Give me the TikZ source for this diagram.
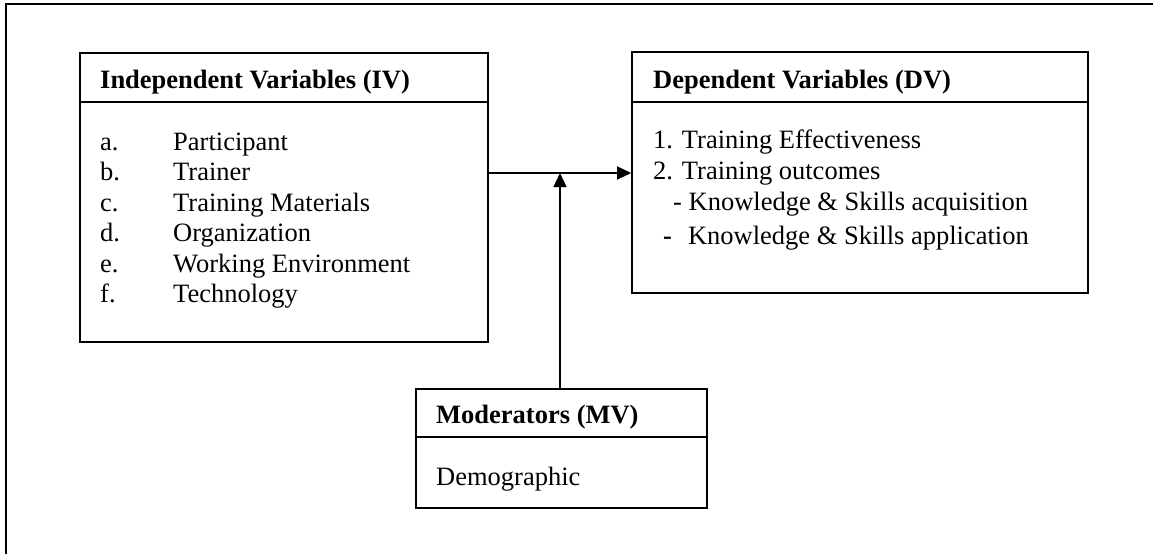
\documentclass[tikz,border=0pt]{standalone}
\usepackage{fontspec}
\setmainfont{Liberation Serif}
\usetikzlibrary{arrows.meta}
\begin{document}
\begin{tikzpicture}[x=1pt,y=-1pt,
  box/.style={draw, line width=1.6pt, rectangle, inner sep=0pt},
  sep/.style={line width=1.6pt},
  frameline/.style={line width=2pt},
  conn/.style={line width=1.3pt, -{Triangle[length=14pt,width=13pt]}},
  txt/.style={anchor=base west, inner sep=0pt, font=\fontsize{26.5}{30}\selectfont},
  ttl/.style={txt, font=\fontsize{26.5}{30}\selectfont\bfseries}]
\useasboundingbox (0,0) rectangle (1153,554);
% outer frame (top and left only)
\draw[frameline] (6,554) -- (6,4) -- (1153,4);
% boxes
\node[box, minimum width=408pt, minimum height=289pt] (iv) at (284,197.5) {};
\node[box, minimum width=456pt, minimum height=241pt] (dv) at (860,172.5) {};
\node[box, minimum width=291pt, minimum height=119pt] (mv) at (561.5,448.5) {};
% header separators
\draw[sep] (iv.west |- 0,102) -- (iv.east |- 0,102);
\draw[sep] (dv.west |- 0,102) -- (dv.east |- 0,102);
\draw[sep] (mv.west |- 0,437) -- (mv.east |- 0,437);
% IV text
\node[ttl] (ivt) at (100,88) {Independent Variables (IV)};
\node[txt] (iva) at (100,150) {a.};
\node[txt] (ivb) at (100,180.5) {b.};
\node[txt] (ivc) at (100,211) {c.};
\node[txt] (ivd) at (100,241.5) {d.};
\node[txt] (ive) at (100,272) {e.};
\node[txt] (ivf) at (100,302.5) {f.};
\node[txt] (iva2) at (173,150) {Participant};
\node[txt] (ivb2) at (173,180.5) {Trainer};
\node[txt] (ivc2) at (173,211) {Training Materials};
\node[txt] (ivd2) at (173,241.5) {Organization};
\node[txt] (ive2) at (173,272) {Working Environment};
\node[txt] (ivf2) at (173,302.5) {Technology};
% DV text
\node[ttl] (dvt) at (653,88) {Dependent Variables (DV)};
\node[txt] (dv1) at (653,148) {1. Training Effectiveness};
\node[txt] (dv2) at (653,179) {2. Training outcomes};
\node[txt] (dv3) at (673,210.5) {- Knowledge \& Skills acquisition};
\node[txt] (dv4) at (663,244.5) {\textbf{-}\hspace{16pt}Knowledge \& Skills application};
% MV text
\node[ttl] (mvt) at (436,423) {Moderators (MV)};
\node[txt] (mv1) at (436,485) {Demographic};
% connectors
\coordinate (j) at (560,173);
\draw[conn] (iv.east |- j) -- (dv.west |- j);
\draw[conn] (mv.north -| j) -- (j);
\end{tikzpicture}
\end{document}
